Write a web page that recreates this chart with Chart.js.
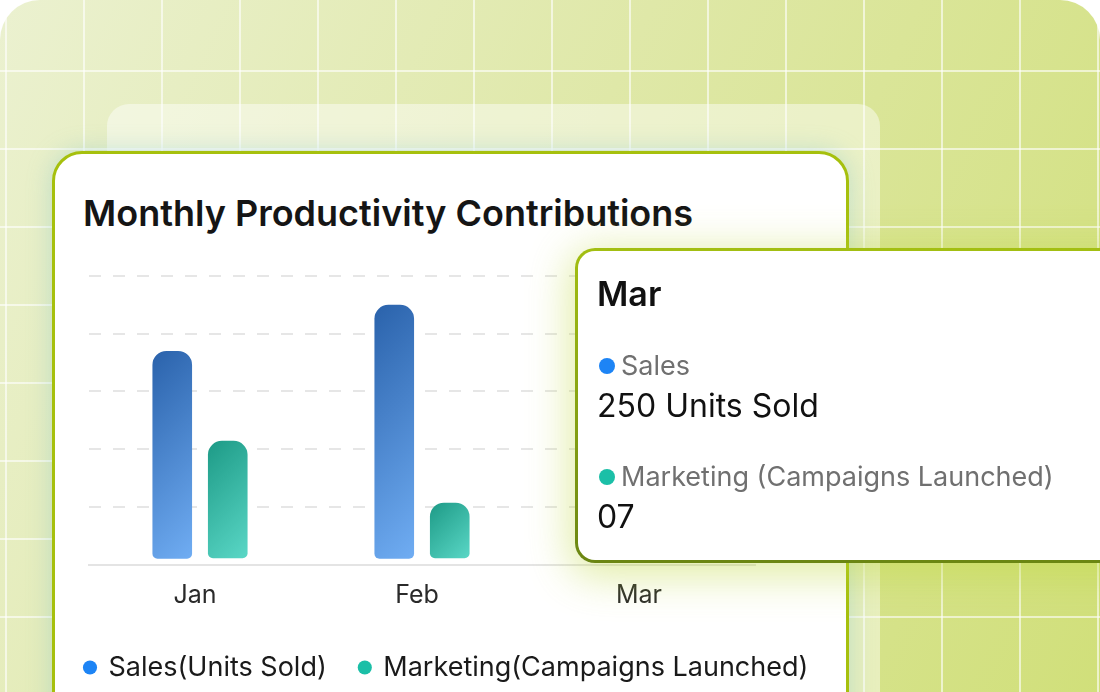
<!DOCTYPE html>
<html>
<head>
<meta charset="utf-8">
<script src="https://cdn.jsdelivr.net/npm/chart.js@4.4.1/dist/chart.umd.min.js"></script>
<style>
  html, body { margin: 0; padding: 0; width: 1100px; height: 692px; overflow: hidden; background: #fff; font-family: Inter, "Noto Sans", sans-serif; }
  #bg {
    position: absolute; left: 0; top: 0; width: 1100px; height: 760px; border-radius: 40px 40px 0 0;
    background-image:
      linear-gradient(90deg, rgba(255,255,255,0.6) 2px, transparent 2px),
      linear-gradient(180deg, rgba(255,255,255,0.6) 2px, transparent 2px),
      linear-gradient(115deg, #ebf1d0 0%, #dfe8a8 45%, #d0df78 100%);
    background-size: 78px 78px, 78px 78px, 100% 100%;
    background-position: 5px 0, 0 70px, 0 0;
  }
  #glass { position: absolute; left: 107px; top: 104px; width: 773px; height: 700px; border-radius: 22px; background: rgba(255,255,255,0.45); }
  #card {
    position: absolute; left: 52px; top: 151px; width: 797px; height: 620px; box-sizing: border-box;
    border: 3px solid #a6c00d; border-radius: 30px; background: #fff;
    box-shadow: 0 0 24px rgba(110,185,200,0.35);
  }
  #title { position: absolute; left: 83px; top: 193px; font-size: 36px; line-height: 40px; font-weight: 600; color: #151515; white-space: nowrap; }
  #wrap { position: absolute; left: 52px; top: 151px; width: 860px; height: 540px; }
  #tip {
    position: absolute; left: 575px; top: 248px; width: 600px; height: 315px; box-sizing: border-box;
    border: 3px solid transparent; border-radius: 20px;
    background: linear-gradient(#fff, #fff) padding-box, linear-gradient(180deg, #a3bf12, #6b8612) border-box;
    box-shadow: 0 8px 40px 6px rgba(190,215,60,0.45);
    padding: 23px 0 0 19px; color: #111;
  }
  #tip .tt-title { font-size: 34px; line-height: 40px; font-weight: 600; }
  #tip .tt-name { font-size: 27px; line-height: 34px; color: #707070; margin-top: 35px; position: relative; padding-left: 24px; white-space: nowrap; }
  #tip .tt-name .dot { position: absolute; left: 2px; top: 9px; width: 16px; height: 16px; border-radius: 50%; }
  #tip .tt-val { font-size: 32px; line-height: 38px; margin-top: 4px; }
</style>
</head>
<body>
<div id="bg"></div>
<div id="glass"></div>
<div id="card"></div>
<div id="title">Monthly Productivity Contributions</div>
<div id="wrap"><canvas id="chart" width="860" height="540"></canvas></div>
<div id="tip"></div>
<script>
const months = ['Jan', 'Feb', 'Mar'];
const salesUnits = [185, 225, 250];
const campaigns = [6, 3, 7];
const legendNames = ['Sales(Units Sold)', 'Marketing(Campaigns Launched)'];
const tipNames = ['Sales', 'Marketing (Campaigns Launched)'];
const dotColors = ['#1d84f5', '#1bbfa7'];
const gradColors = [['#2a62ab', '#70adf3'], ['#1d9a86', '#5ad7c6']];

const fontFamily = 'Inter, "Noto Sans", sans-serif';

// each bar gets its own 135deg gradient, top-left dark -> bottom-right light
const barGradient = {
    id: 'barGradient',
    beforeDatasetsDraw(chart) {
        const g = chart.ctx;
        chart.data.datasets.forEach((ds, i) => {
            const meta = chart.getDatasetMeta(i);
            meta.data.forEach(bar => {
                const p = bar.getProps(['x', 'y', 'base', 'width'], true);
                const cx = p.x, cy = (p.y + p.base) / 2;
                const h = Math.abs(p.base - p.y);
                const half = (p.width + h) * Math.SQRT1_2 / 2;
                const d = half * Math.SQRT1_2;
                const grad = g.createLinearGradient(cx - d, cy - d, cx + d, cy + d);
                grad.addColorStop(0, gradColors[i][0]);
                grad.addColorStop(1, gradColors[i][1]);
                bar.options = Object.assign({}, bar.options, { backgroundColor: grad });
            });
        });
    }
};

function drawTip(context) {
    const tooltip = context.tooltip;
    const el = document.getElementById('tip');
    if (!tooltip.dataPoints || !tooltip.dataPoints.length) return;
    var html = '<div class="tt-title">' + tooltip.title[0] + '</div>';
    tooltip.dataPoints.forEach((p, i) => {
        html += '<div class="tt-name"><span class="dot" style="background:' + dotColors[p.datasetIndex] + '"></span>' + tipNames[p.datasetIndex] + '</div>';
        html += '<div class="tt-val">' + tooltip.body[i].lines[0] + '</div>';
    });
    el.innerHTML = html;
}

const ctx = document.getElementById('chart');

var myChart = new Chart(ctx, {
    type: 'bar',
    data: {
        labels: months,
        datasets: [{
            label: legendNames[0],
            data: salesUnits,
            yAxisID: 'y',
            base: 5,
            backgroundColor: dotColors[0],
            borderWidth: 0,
            borderRadius: { topLeft: 14, topRight: 14, bottomLeft: 5, bottomRight: 5 },
            borderSkipped: false,
            categoryPercentage: 0.5,
            barPercentage: 0.714
        }, {
            label: legendNames[1],
            data: campaigns,
            yAxisID: 'y1',
            base: 0.3,
            backgroundColor: dotColors[1],
            borderWidth: 0,
            borderRadius: { topLeft: 14, topRight: 14, bottomLeft: 5, bottomRight: 5 },
            borderSkipped: false,
            categoryPercentage: 0.5,
            barPercentage: 0.714
        }]
    },
    options: {
        responsive: false,
        animation: false,
        events: [],
        layout: { padding: { top: 125, left: 0, right: 0, bottom: 0 } },
        plugins: {
            legend: {
                position: 'bottom',
                align: 'start',
                labels: {
                    usePointStyle: true,
                    pointStyle: 'circle',
                    boxWidth: 10,
                    boxHeight: 10,
                    padding: 33,
                    color: '#1a1a1a',
                    font: { family: fontFamily, size: 27 }
                }
            },
            tooltip: {
                enabled: false,
                mode: 'index',
                external: drawTip,
                callbacks: {
                    label: (c) => c.datasetIndex === 0 ? c.raw + ' Units Sold' : String(c.raw).padStart(2, '0')
                }
            }
        },
        scales: {
            x: {
                grid: { display: false, drawTicks: false },
                border: { display: true, color: '#e4e4e4', width: 2 },
                ticks: { padding: 16, labelOffset: -5, color: '#2a2a2a', font: { family: fontFamily, size: 25 } },
                afterFit: (scale) => { scale.height = 56.5 }
            },
            y: {
                min: 0,
                max: 250,
                ticks: { display: false, stepSize: 50 },
                border: { display: false, dash: [12, 12] },
                grid: { color: '#e6e6e6', lineWidth: 2, drawTicks: false },
                afterFit: (scale) => { scale.width = 37 }
            },
            y1: {
                position: 'right',
                min: 0,
                max: 14,
                ticks: { display: false },
                border: { display: false },
                grid: { drawOnChartArea: false, drawTicks: false },
                afterFit: (scale) => { scale.width = 157 }
            }
        }
    },
    plugins: [barGradient]
});

myChart.tooltip.setActiveElements([
    { datasetIndex: 0, index: 2 },
    { datasetIndex: 1, index: 2 }
], { x: 0, y: 0 });
myChart.update();
</script>
</body>
</html>
